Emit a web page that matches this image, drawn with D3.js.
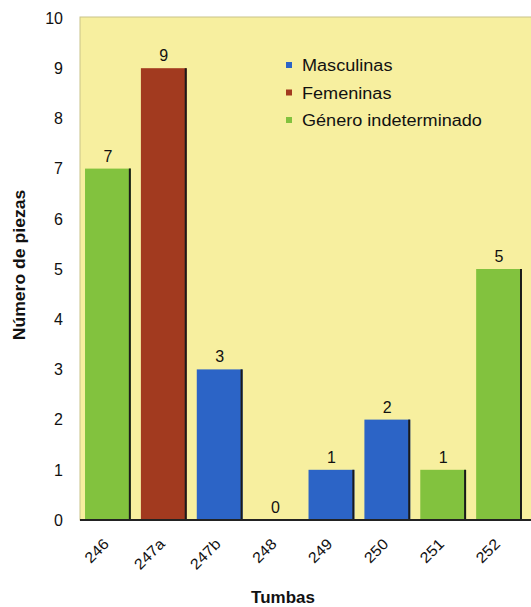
<!DOCTYPE html>
<html>
<head>
<meta charset="utf-8">
<script src="https://cdn.jsdelivr.net/npm/d3@7"></script>
<style>
  body { margin: 0; background: #fff; }
  svg text { font-family: Arial, "Liberation Sans", sans-serif; fill: #111; }
</style>
</head>
<body>
<svg id="chart" width="531" height="607"></svg>
<script>
const tumbas = ["246", "247a", "247b", "248", "249", "250", "251", "252"];
const piezas = [7, 9, 3, 0, 1, 2, 1, 5];
const grupo = ["ind", "fem", "masc", "masc", "masc", "masc", "ind", "ind"];
const yTicks = [0, 1, 2, 3, 4, 5, 6, 7, 8, 9, 10];

const legendKeys = ["masc", "fem", "ind"];
const legendLabels = ["Masculinas", "Femeninas", "Género indeterminado"];
const colors = { masc: "#2c64c6", fem: "#a23a1f", ind: "#82c23e" };

const data = tumbas.map((t, i) => ({ tumba: t, n: piezas[i], g: grupo[i] }));

const svg = d3.select("#chart");
const plot = { left: 80, top: 17, right: 533, bottom: 520 };

// the source text is a bit wider than plain Arial
function stretch(sel, k) {
  sel.each(function() {
    const w = this.getComputedTextLength();
    d3.select(this)
      .attr("textLength", w * k)
      .attr("lengthAdjust", "spacingAndGlyphs");
  });
}

const x = d3.scaleBand()
  .domain(tumbas)
  .range([80, 527])
  .paddingInner(0.18)
  .paddingOuter(0.09);

const y = d3.scaleLinear()
  .domain([0, 10])
  .range([plot.bottom, 18]);

// plot background
svg.append("rect")
  .attr("x", plot.left)
  .attr("y", plot.top)
  .attr("width", plot.right - plot.left)
  .attr("height", plot.bottom - plot.top)
  .attr("fill", "#f7ef9f")
  .attr("stroke", "#c9c38a")
  .attr("stroke-width", 1);

// bars
const bars = svg.append("g");
bars.selectAll("rect")
  .data(data)
  .enter()
  .append("rect")
  .attr("x", d => x(d.tumba))
  .attr("y", d => y(d.n))
  .attr("width", x.bandwidth())
  .attr("height", d => y(0) - y(d.n))
  .attr("fill", d => colors[d.g]);

// dark shadow on the right side of each bar
bars.selectAll("line")
  .data(data.filter(d => d.n > 0))
  .enter()
  .append("line")
  .attr("x1", d => x(d.tumba) + x.bandwidth() - 1)
  .attr("x2", d => x(d.tumba) + x.bandwidth() - 1)
  .attr("y1", d => y(d.n))
  .attr("y2", y(0))
  .attr("stroke", "#1a1a1a")
  .attr("stroke-width", 2);

// value labels
svg.selectAll(".bar-label")
  .data(data)
  .enter()
  .append("text")
  .attr("class", "bar-label")
  .attr("x", d => x(d.tumba) + x.bandwidth() / 2)
  .attr("y", d => y(d.n) - 7)
  .attr("text-anchor", "middle")
  .style("font-size", "16px")
  .text(d => d.n);

// x axis line
svg.append("line")
  .attr("x1", plot.left)
  .attr("x2", plot.right)
  .attr("y1", plot.bottom)
  .attr("y2", plot.bottom)
  .attr("stroke", "#222")
  .attr("stroke-width", 2);

// y tick labels
svg.selectAll(".y-tick")
  .data(yTicks)
  .enter()
  .append("text")
  .attr("class", "y-tick")
  .attr("x", 63)
  .attr("y", d => y(d))
  .attr("dy", "0.36em")
  .attr("text-anchor", "end")
  .style("font-size", "16px")
  .text(d => d);

// x tick labels
svg.selectAll(".x-tick")
  .data(tumbas)
  .enter()
  .append("text")
  .attr("class", "x-tick")
  .attr("transform", d => `translate(${x(d) + x.bandwidth() / 2 + 2},545) rotate(-45)`)
  .attr("text-anchor", "end")
  .style("font-size", "15px")
  .text(d => d)
  .call(stretch, 1.08);

// legend
const legend = svg.append("g");
legendKeys.forEach((k, i) => {
  const ly = 71 + i * 27.5;
  legend.append("rect")
    .attr("x", 286)
    .attr("y", ly - 9)
    .attr("width", 6)
    .attr("height", 6)
    .attr("fill", colors[k]);
  legend.append("text")
    .attr("x", 302)
    .attr("y", ly)
    .style("font-size", "16px")
    .text(legendLabels[i])
    .call(stretch, 1.13);
});

// axis titles
svg.append("text")
  .attr("x", 283)
  .attr("y", 603)
  .attr("text-anchor", "middle")
  .style("font-size", "16px")
  .style("font-weight", "bold")
  .text("Tumbas")
  .call(stretch, 1.06);

svg.append("text")
  .attr("transform", "rotate(-90)")
  .attr("x", -265)
  .attr("y", 25)
  .attr("text-anchor", "middle")
  .style("font-size", "16px")
  .style("font-weight", "bold")
  .text("Número de piezas")
  .call(stretch, 1.1);
</script>
</body>
</html>
